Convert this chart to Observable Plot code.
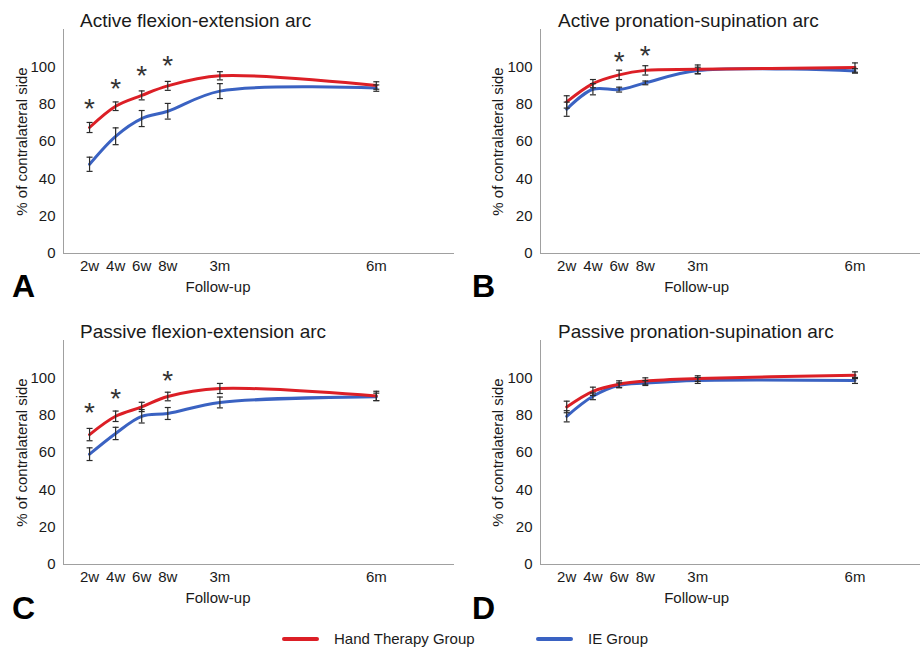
<!DOCTYPE html>
<html>
<head>
<meta charset="utf-8">
<script src="https://cdn.jsdelivr.net/npm/d3@7"></script>
<script src="https://cdn.jsdelivr.net/npm/@observablehq/plot@0.6"></script>
<style>
  html, body { margin: 0; padding: 0; background: #fff; }
  body { font-family: "Liberation Sans", Arial, sans-serif; color: #1a1a1a; }
  #root { position: relative; width: 920px; height: 648px; overflow: hidden; background: #fff; }
  .abs { position: absolute; white-space: nowrap; line-height: 1; }
  .title { font-size: 19px; }
  .xlab { font-size: 15px; transform: translateX(-50%); }
  .letter { font-size: 32px; font-weight: bold; color: #000; }
  .leg { font-size: 15px; }
  .legline { position: absolute; height: 4px; border-radius: 2px; }
  .panel { position: absolute; }
  .panel g[aria-label$="tick label"] { font-size: 15px; }
</style>
</head>
<body>
<div id="root"></div>
<script>
// ---------- data ----------
const timepoints = ["2w", "4w", "6w", "8w", "3m", "6m"];
const weeks = [2, 4, 6, 8, 12, 24];
const groups = ["Hand Therapy Group", "IE Group"];
const panelTitles = [
  "Active flexion-extension arc",
  "Active pronation-supination arc",
  "Passive flexion-extension arc",
  "Passive pronation-supination arc"
];
const panelLetters = ["A", "B", "C", "D"];
const yTicks = [0, 20, 40, 60, 80, 100];

// A: Active flexion-extension
const handMeanA = [67.5, 78.9, 84.7, 89.8, 95.2, 90.0];
const handSdA   = [2.7, 2.3, 2.4, 2.4, 2.2, 2.0];
const ieMeanA   = [47.8, 62.8, 72.3, 76.2, 87.0, 88.6];
const ieSdA     = [3.8, 4.5, 4.3, 4.2, 4.0, 1.7];
const starsAtA  = ["2w", "4w", "6w", "8w"];
const starsYA   = [80, 91, 97.5, 103];

// B: Active pronation-supination
const handMeanB = [81.2, 91.0, 95.7, 98.1, 98.7, 99.6];
const handSdB   = [3.3, 2.2, 2.5, 2.5, 2.3, 2.5];
const ieMeanB   = [77.3, 88.0, 87.8, 91.4, 98.0, 97.8];
const ieSdB     = [3.8, 3.0, 1.3, 1.0, 1.8, 1.2];
const starsAtB  = ["6w", "8w"];
const starsYB   = [105.3, 108.5];

// C: Passive flexion-extension
const handMeanC = [69.6, 79.4, 84.4, 90.0, 94.3, 90.3];
const handSdC   = [3.3, 2.8, 2.5, 2.3, 2.7, 2.5];
const ieMeanC   = [59.1, 70.2, 79.4, 80.9, 86.8, 89.8];
const ieSdC     = [3.4, 3.3, 3.6, 3.2, 2.9, 2.0];
const starsAtC  = ["2w", "4w", "8w"];
const starsYC   = [83.6, 91.2, 100.9];

// D: Passive pronation-supination
const handMeanD = [84.4, 92.8, 96.6, 98.3, 99.6, 101.4];
const handSdD   = [3.1, 2.2, 1.8, 1.7, 1.5, 1.8];
const ieMeanD   = [79.4, 90.1, 96.0, 97.2, 98.6, 98.6];
const ieSdD     = [3.0, 1.8, 1.3, 1.3, 1.6, 1.6];
const starsAtD  = [];
const starsYD   = [];

// ---------- styling / layout ----------
const colors = { "Hand Therapy Group": "#dc1f26", "IE Group": "#3a62c2" };
const FONT = '"Liberation Sans", Arial, sans-serif';

const panels = [
  { hand: handMeanA, handSd: handSdA, ie: ieMeanA, ieSd: ieSdA, starsAt: starsAtA, starsY: starsYA,
    left: 0, top: 0, marginLeft: 63, marginRight: 6, xMax: 30 },
  { hand: handMeanB, handSd: handSdB, ie: ieMeanB, ieSd: ieSdB, starsAt: starsAtB, starsY: starsYB,
    left: 460, top: 0, marginLeft: 80, marginRight: 0, xMax: 29 },
  { hand: handMeanC, handSd: handSdC, ie: ieMeanC, ieSd: ieSdC, starsAt: starsAtC, starsY: starsYC,
    left: 0, top: 311, marginLeft: 63, marginRight: 6, xMax: 30 },
  { hand: handMeanD, handSd: handSdD, ie: ieMeanD, ieSd: ieSdD, starsAt: starsAtD, starsY: starsYD,
    left: 460, top: 311, marginLeft: 80, marginRight: 0, xMax: 29 }
];

// horizontal cap symbol for error bars
const capSymbol = {
  draw(context, size) {
    const w = Math.sqrt(size / Math.PI);
    context.moveTo(-w, 0);
    context.lineTo(w, 0);
  }
};

const root = document.getElementById("root");

function addDiv(cls, text, css) {
  const d = document.createElement("div");
  d.className = "abs " + cls;
  d.textContent = text;
  Object.assign(d.style, css);
  root.appendChild(d);
  return d;
}

panels.forEach((p, i) => {
  const rows = [];
  timepoints.forEach((t, j) => {
    rows.push({ group: groups[0], tp: t, week: weeks[j], mean: p.hand[j], sd: p.handSd[j] });
    rows.push({ group: groups[1], tp: t, week: weeks[j], mean: p.ie[j], sd: p.ieSd[j] });
  });
  const stars = p.starsAt.map((t, k) => ({ week: weeks[timepoints.indexOf(t)], y: p.starsY[k] }));

  const chart = Plot.plot({
    width: 460,
    height: 300,
    marginLeft: p.marginLeft,
    marginRight: p.marginRight,
    marginTop: 29,
    marginBottom: 47,
    style: { fontFamily: FONT, fontSize: "15px", color: "#1a1a1a", background: "transparent", overflow: "visible" },
    x: { domain: [0, p.xMax] },
    y: { domain: [0, 120] },
    marks: [
      Plot.axisX({
        ticks: weeks,
        tickFormat: d => timepoints[weeks.indexOf(d)],
        tickSize: 0,
        tickPadding: 7,
        fontSize: 15,
        label: null
      }),
      Plot.axisY({
        ticks: yTicks,
        tickSize: 0,
        tickPadding: 8,
        fontSize: 15,
        label: null
      }),
      Plot.ruleX([0], { stroke: "#a0a0a0", strokeWidth: 1 }),
      Plot.ruleY([0], { stroke: "#a0a0a0", strokeWidth: 1 }),
      Plot.line(rows.filter(d => d.group === groups[1]), {
        x: "week", y: "mean", stroke: colors[groups[1]], strokeWidth: 3, curve: "catmull-rom"
      }),
      Plot.line(rows.filter(d => d.group === groups[0]), {
        x: "week", y: "mean", stroke: colors[groups[0]], strokeWidth: 3, curve: "catmull-rom"
      }),
      Plot.ruleX(rows, {
        x: "week", y1: d => d.mean - d.sd, y2: d => d.mean + d.sd, stroke: "#2a2a2a", strokeWidth: 1.2
      }),
      Plot.dot(rows, {
        x: "week", y: d => d.mean - d.sd, symbol: capSymbol, r: 3, fill: "none", stroke: "#2a2a2a", strokeWidth: 1.2
      }),
      Plot.dot(rows, {
        x: "week", y: d => d.mean + d.sd, symbol: capSymbol, r: 3, fill: "none", stroke: "#2a2a2a", strokeWidth: 1.2
      }),
      Plot.text(stars, {
        x: "week", y: "y", text: () => "*", fontSize: 28, dy: 5, fill: "#333"
      }),
      Plot.text(["% of contralateral side"], {
        frameAnchor: "left", textAnchor: "middle", lineAnchor: "middle",
        dx: p.marginLeft === 63 ? -41 : -42, rotate: -90, fontSize: 15, fill: "#1a1a1a"
      })
    ]
  });
  chart.classList.add("panel");
  chart.style.left = p.left + "px";
  chart.style.top = p.top + "px";
  root.appendChild(chart);

  // title
  const titleLeft = p.left + (p.marginLeft === 63 ? 80 : 98);
  addDiv("title", panelTitles[i], { left: titleLeft + "px", top: (p.top + 10.6) + "px" });
  // x axis label
  const xlabCenter = p.left + (p.marginLeft === 63 ? 218 : 236.7);
  addDiv("xlab", "Follow-up", { left: xlabCenter + "px", top: (p.top + 279.3) + "px" });
  // panel letter
  const letterTop = i < 2 ? 269.5 : 592;
  addDiv("letter", panelLetters[i], { left: (p.left + 12) + "px", top: letterTop + "px" });
});

// legend
function legendItem(group, lineLeft, textLeft) {
  const l = document.createElement("div");
  l.className = "legline";
  Object.assign(l.style, { left: lineLeft + "px", top: "637px", width: "37px", background: colors[group] });
  root.appendChild(l);
  addDiv("leg", group, { left: textLeft + "px", top: "630.8px" });
}
legendItem(groups[0], 282, 334);
legendItem(groups[1], 536, 588);
</script>
</body>
</html>
